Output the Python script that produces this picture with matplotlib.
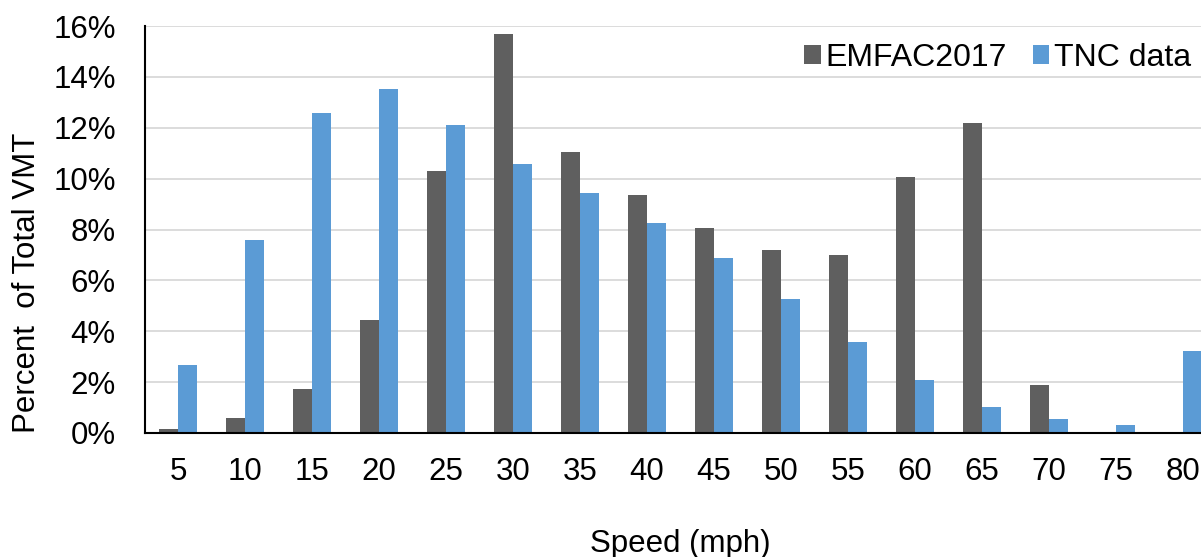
import matplotlib.pyplot as plt
import numpy as np

plt.rcParams['font.family'] = ['Liberation Sans', 'DejaVu Sans']

speeds = [5, 10, 15, 20, 25, 30, 35, 40, 45, 50, 55, 60, 65, 70, 75, 80]
emfac = [0.17, 0.60, 1.74, 4.45, 10.31, 15.67, 11.03, 9.36, 8.07, 7.18,
         7.01, 10.08, 12.17, 1.90, 0.0, 0.0]
tnc = [2.67, 7.60, 12.57, 13.51, 12.11, 10.59, 9.42, 8.27, 6.88, 5.27,
       3.59, 2.07, 1.03, 0.55, 0.30, 3.22]

W, H = 1201, 557
fig = plt.figure(figsize=(W / 100, H / 100), dpi=100)
# plot area runs past the right edge like in the source image
ax = fig.add_axes([145 / W, 124 / H, (1216 - 145) / W, (433 - 26) / H])

x = np.arange(len(speeds))
bw = 0.284
ax.bar(x - bw / 2, emfac, bw, color='#5f5f5f', label='EMFAC2017', zorder=3)
ax.bar(x + bw / 2, tnc, bw, color='#5b9bd5', label='TNC data', zorder=3)

ax.set_xlim(-0.5, len(speeds) - 0.5)
ax.set_ylim(0, 16)
ax.set_yticks(range(0, 17, 2))
ax.set_yticklabels([f'{v}%' for v in range(0, 17, 2)])
ax.set_xticks(x)
ax.set_xticklabels([str(s) for s in speeds])
ax.tick_params(length=0, labelsize=22.5)
ax.tick_params(axis='y', pad=21)
ax.tick_params(axis='x', pad=17)
ax.grid(axis='y', color='#d9d9d9', linewidth=1.3, zorder=0)

for s in ['top', 'right']:
    ax.spines[s].set_visible(False)
for s in ['left', 'bottom']:
    ax.spines[s].set_color('black')
    ax.spines[s].set_linewidth(1.5)
    ax.spines[s].set_zorder(4)

fig.text(27 / W, 1 - 283 / H, 'Percent  of Total VMT', rotation=90,
         ha='center', va='center', fontsize=22.5)
fig.text(680 / W, 1 - 544 / H, 'Speed (mph)', ha='center', va='center',
         fontsize=22.5)

fig.legend(loc='center right', bbox_to_anchor=(1207 / W, 1 - 58 / H),
           frameon=False, fontsize=23, ncol=2, handlelength=0.52,
           handleheight=0.52, handletextpad=0.15, columnspacing=0.8,
           borderpad=0)

fig.savefig('out.png', dpi=100)
